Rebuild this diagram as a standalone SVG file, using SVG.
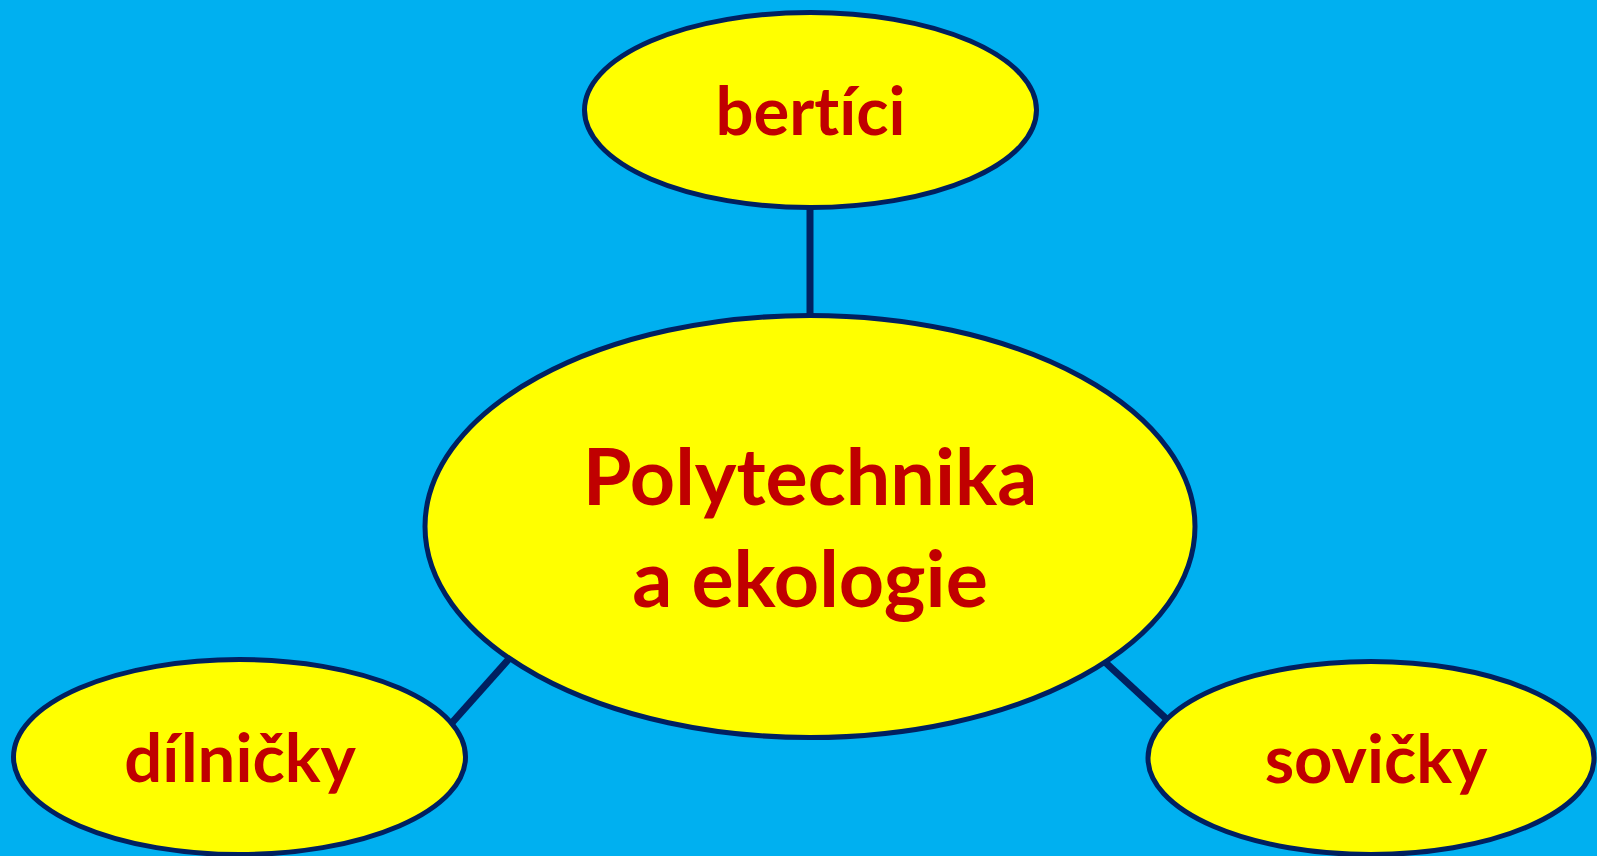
<svg xmlns="http://www.w3.org/2000/svg" width="1597" height="856" viewBox="0 0 1597 856">
<style>
.node{fill:#FFFF00;stroke:#002060;stroke-width:5}
.lbl{font-family:Lato,"Open Sans","Liberation Sans",sans-serif;font-weight:bold;fill:#C00000;text-anchor:middle;font-variant-ligatures:none;font-feature-settings:"liga" 0}
.big{font-size:79px}
.small{font-size:67px}
.conn{stroke:#002060;stroke-width:7;fill:none;stroke-linecap:square}
</style>
<rect width="1597" height="856" fill="#00B0F0"/>
<g id="connectors">
<line class="conn" x1="810" y1="210" x2="810" y2="314"/>
<line class="conn" x1="508" y1="660" x2="450" y2="725"/>
<line class="conn" x1="1105" y1="662" x2="1173" y2="725"/>
</g>
<g id="bertici">
<ellipse class="node" cx="810.5" cy="110" rx="226" ry="97.5"/>
<text class="lbl small" x="810.5" y="135">bertíci</text>
</g>
<g id="center">
<ellipse class="node" cx="810" cy="526.5" rx="385" ry="211"/>
<text class="lbl big" x="810" y="505">Polytechnika</text>
<text class="lbl big" x="810" y="607">a ekologie</text>
</g>
<g id="dilnicky">
<ellipse class="node" cx="239.5" cy="757" rx="226" ry="97.5"/>
<text class="lbl small" x="240" y="782">dílničky</text>
</g>
<g id="sovicky">
<ellipse class="node" cx="1371" cy="758" rx="223" ry="96.5"/>
<text class="lbl small" x="1376" y="783">sovičky</text>
</g>
</svg>
